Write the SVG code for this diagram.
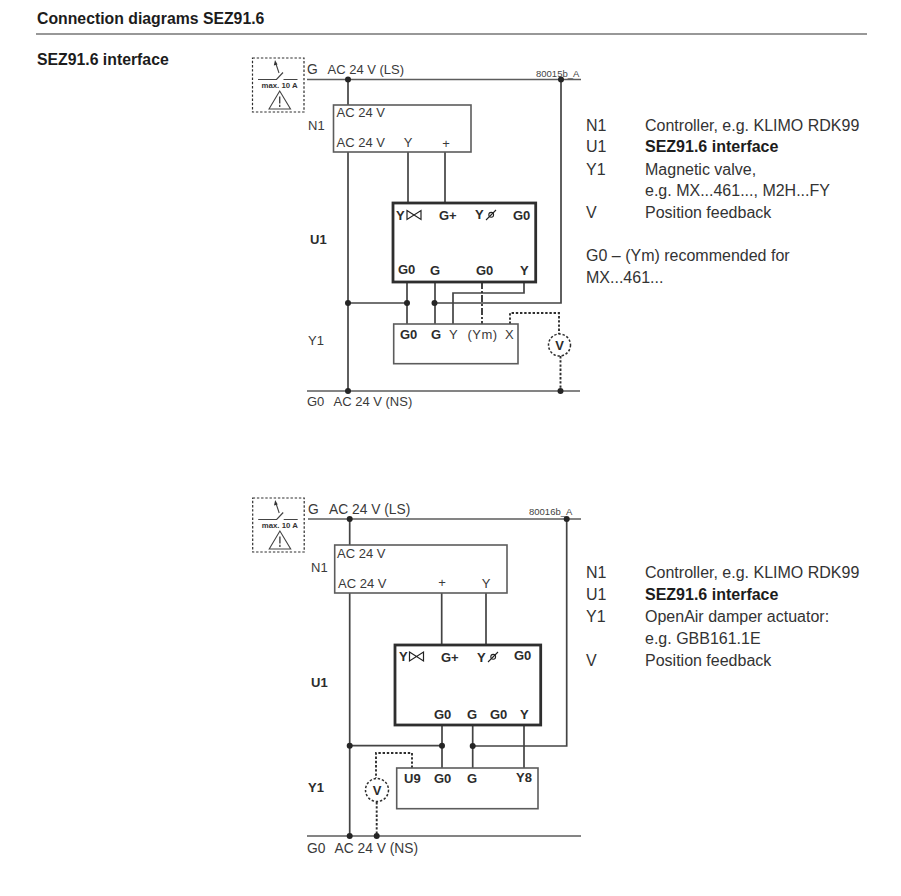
<svg xmlns="http://www.w3.org/2000/svg" width="901" height="896" viewBox="0 0 901 896">
<style>
text{font-family:"Liberation Sans",Arial,sans-serif;fill:#3a3a3a;font-size:13px}
.b{font-weight:bold;fill:#2c2c2c}
.h{font-weight:bold;fill:#1c1c1c;font-size:15.8px}
.l{font-size:16px;fill:#333}
.lb{font-size:16px;font-weight:bold;fill:#1c1c1c}
.s{font-size:9.5px;fill:#444}
.m{text-anchor:middle}
.w{fill:none;stroke:#444;stroke-width:1.7}
.bus{fill:none;stroke:#5c5c5c;stroke-width:1.7}
.box{fill:#fff;stroke:#5c5c5c;stroke-width:1.6}
.thick{fill:#fff;stroke:#2e2e2e;stroke-width:2.8}
.d{fill:none;stroke:#2e2e2e;stroke-width:1.9;stroke-dasharray:2.400 1.800}
.da{fill:none;stroke:#2e2e2e;stroke-width:1.8;stroke-dasharray:7 2 2 2}
.dot{fill:#252525}
.sym{fill:none;stroke:#444;stroke-width:1.1}
.tb{font-size:7.800px;font-weight:bold;fill:#333}
.t{font-size:13.800px}
</style>
<defs>
<g id="warn">
<rect class="d" x="0" y="0" width="51.500" height="54" style="stroke-width:1.2"/>
<path class="sym" d="M5.500 21.500H24L30.500 14.500M31 21.500H45" style="stroke-width:1.2"/>
<path class="sym" d="M23.500 6L26.500 15"/>
<path d="M22.500 2L21.300 7.500L25 6.500Z" fill="#333"/>
<text class="tb" x="9" y="29.500">max. 10 A</text>
<path class="sym" d="M16.500 51L27.200 33L38 51Z"/>
<path d="M27.200 38.500V45.500M27.200 46.800V49" class="sym" style="stroke-width:1.4"/>
</g>
<g id="valve"><path class="sym" d="M0 0L14 9V0L0 9Z" style="stroke:#222;stroke-width:1.2"/></g>
<g id="pos"><path class="sym" d="M0 10L10 0" style="stroke:#222"/><circle class="sym" cx="5.200" cy="4.800" r="2.400" style="stroke:#222"/></g>
</defs>

<g id="header">
<text class="h" x="37" y="24">Connection diagrams SEZ91.6</text>
<path d="M36 34H867" stroke="#333" stroke-width="1.200"/>
<text class="h" x="37" y="64.500">SEZ91.6 interface</text>
</g>

<g id="connectors-a">
<path class="bus" d="M307 79.500H581M307 391H580"/>
<path class="w" d="M348 79.500V105M348 152V391M408 152V203M445 152V203M561 79.500V303H435M348 303H407M407 282V324M435 282V324M524 282V293H453V324"/>
<path class="da" d="M482 282V324"/>
<path class="d" d="M510 324V313H559V334M560.500 356V391"/>
<circle class="dot" cx="348" cy="79.500" r="3"/><circle class="dot" cx="561" cy="79.500" r="3"/>
<circle class="dot" cx="348" cy="303" r="3"/><circle class="dot" cx="407" cy="303" r="3"/><circle class="dot" cx="434.500" cy="303" r="3"/>
<circle class="dot" cx="348" cy="391" r="3"/><circle class="dot" cx="560.500" cy="391" r="3"/>
</g>
<g id="warning-a"><use href="#warn" x="252.500" y="58"/></g>
<g id="bus-labels-a">
<text class="t" x="307" y="74">G</text><text x="327.500" y="74">AC 24 V (LS)</text>
<text class="s" x="536" y="77">80015b_A</text>
<text x="307" y="406">G0</text><text x="333.500" y="406">AC 24 V (NS)</text>
</g>
<g id="n1-a">
<rect class="box" x="333.500" y="105" width="137.500" height="47"/>
<text x="336.500" y="117">AC 24 V</text><text x="336.500" y="147">AC 24 V</text>
<text class="m" x="408" y="147">Y</text><text class="m" x="446" y="148">+</text>
<text x="308" y="130">N1</text>
</g>
<g id="u1-a">
<rect class="thick" x="393" y="203" width="142.700" height="79"/>
<text class="b" x="396" y="220">Y</text><use href="#valve" x="407" y="210.500"/>
<text class="b" x="439" y="220">G+</text>
<text class="b" x="475" y="219">Y</text><use href="#pos" x="486" y="210"/>
<text class="b" x="513" y="220">G0</text>
<text class="b" x="398" y="274">G0</text><text class="b" x="430" y="275">G</text>
<text class="b" x="476" y="275">G0</text><text class="b" x="520" y="275">Y</text>
<text class="b" x="310" y="244">U1</text>
</g>
<g id="y1-a">
<rect class="box" x="393.700" y="324" width="124.300" height="39.700"/>
<text class="b" x="400" y="339">G0</text><text class="b" x="431" y="339">G</text>
<text x="449" y="339">Y</text><text x="467.500" y="339" textLength="29.500">(Ym)</text><text x="505" y="339">X</text>
<text x="308" y="345">Y1</text>
</g>
<g id="v-a">
<circle class="d" cx="559.500" cy="345" r="11" style="stroke-width:1.500"/>
<text class="b m" x="559.500" y="350">V</text>
</g>
<g id="legend-a">
<text class="l" x="586" y="130.500">N1</text><text class="l" x="645" y="130.500">Controller, e.g. KLIMO RDK99</text>
<text class="l" x="586" y="152">U1</text><text class="lb" x="645" y="152">SEZ91.6 interface</text>
<text class="l" x="586" y="174.500">Y1</text><text class="l" x="645" y="174.500">Magnetic valve,</text>
<text class="l" x="645" y="196">e.g. MX...461..., M2H...FY</text>
<text class="l" x="586" y="218">V</text><text class="l" x="645" y="218">Position feedback</text>
<text class="l" x="586" y="261">G0 – (Ym) recommended for</text>
<text class="l" x="586" y="283">MX...461...</text>
</g>

<g id="connectors-b">
<path class="bus" d="M308 519H581M307 836H581"/>
<path class="w" d="M349.700 519V545M349.700 593V836M441.700 593V645M486 593V645M566.700 519V746H472.700M349.700 745.700H442M442 725V768M472.700 725V768M524 725V768"/>
<path class="d" d="M412 768V753H376V778M376.700 802V836"/>
<circle class="dot" cx="349.700" cy="519" r="3"/><circle class="dot" cx="566.700" cy="519" r="3"/>
<circle class="dot" cx="349.700" cy="745.700" r="3"/><circle class="dot" cx="442" cy="745.700" r="3"/><circle class="dot" cx="472.700" cy="746" r="3"/>
<circle class="dot" cx="349.700" cy="836" r="3"/><circle class="dot" cx="376.700" cy="836" r="3"/>
</g>
<g id="warning-b"><use href="#warn" x="252.700" y="498"/></g>
<g id="bus-labels-b">
<text class="t" x="308" y="514">G</text><text class="t" x="329" y="514">AC 24 V (LS)</text>
<text class="s" x="529" y="515">80016b_A</text>
<text class="t" x="307" y="853">G0</text><text class="t" x="334.500" y="853">AC 24 V (NS)</text>
</g>
<g id="n1-b">
<rect class="box" x="334.700" y="545" width="172.300" height="48"/>
<text x="337" y="558">AC 24 V</text><text x="338" y="588">AC 24 V</text>
<text class="m" x="442" y="587">+</text><text class="m" x="486" y="588">Y</text>
<text x="311" y="572">N1</text>
</g>
<g id="u1-b">
<rect class="thick" x="395" y="645" width="145.700" height="80"/>
<text class="b" x="399" y="661">Y</text><use href="#valve" x="409.500" y="652"/>
<text class="b" x="441" y="662">G+</text>
<text class="b" x="477" y="662">Y</text><use href="#pos" x="488" y="652"/>
<text class="b" x="514" y="660">G0</text>
<text class="b" x="434" y="719">G0</text><text class="b" x="467" y="719">G</text>
<text class="b" x="490" y="719">G0</text><text class="b" x="520" y="719">Y</text>
<text class="b" x="311" y="687">U1</text>
</g>
<g id="y1-b">
<rect class="box" x="396.700" y="768" width="141.300" height="40.700"/>
<text class="b" x="404" y="783">U9</text><text class="b" x="434" y="783">G0</text>
<text class="b" x="467" y="783">G</text><text class="b" x="516" y="782">Y8</text>
<text class="b" x="308" y="792">Y1</text>
</g>
<g id="v-b">
<circle class="d" cx="377" cy="790" r="11.500" style="stroke-width:1.500"/>
<text class="b m" x="377" y="795">V</text>
</g>
<g id="legend-b">
<text class="l" x="586" y="578">N1</text><text class="l" x="645" y="578">Controller, e.g. KLIMO RDK99</text>
<text class="l" x="586" y="600">U1</text><text class="lb" x="645" y="600">SEZ91.6 interface</text>
<text class="l" x="586" y="622">Y1</text><text class="l" x="645" y="622">OpenAir damper actuator:</text>
<text class="l" x="645" y="644">e.g. GBB161.1E</text>
<text class="l" x="586" y="666">V</text><text class="l" x="645" y="666">Position feedback</text>
</g>
</svg>
